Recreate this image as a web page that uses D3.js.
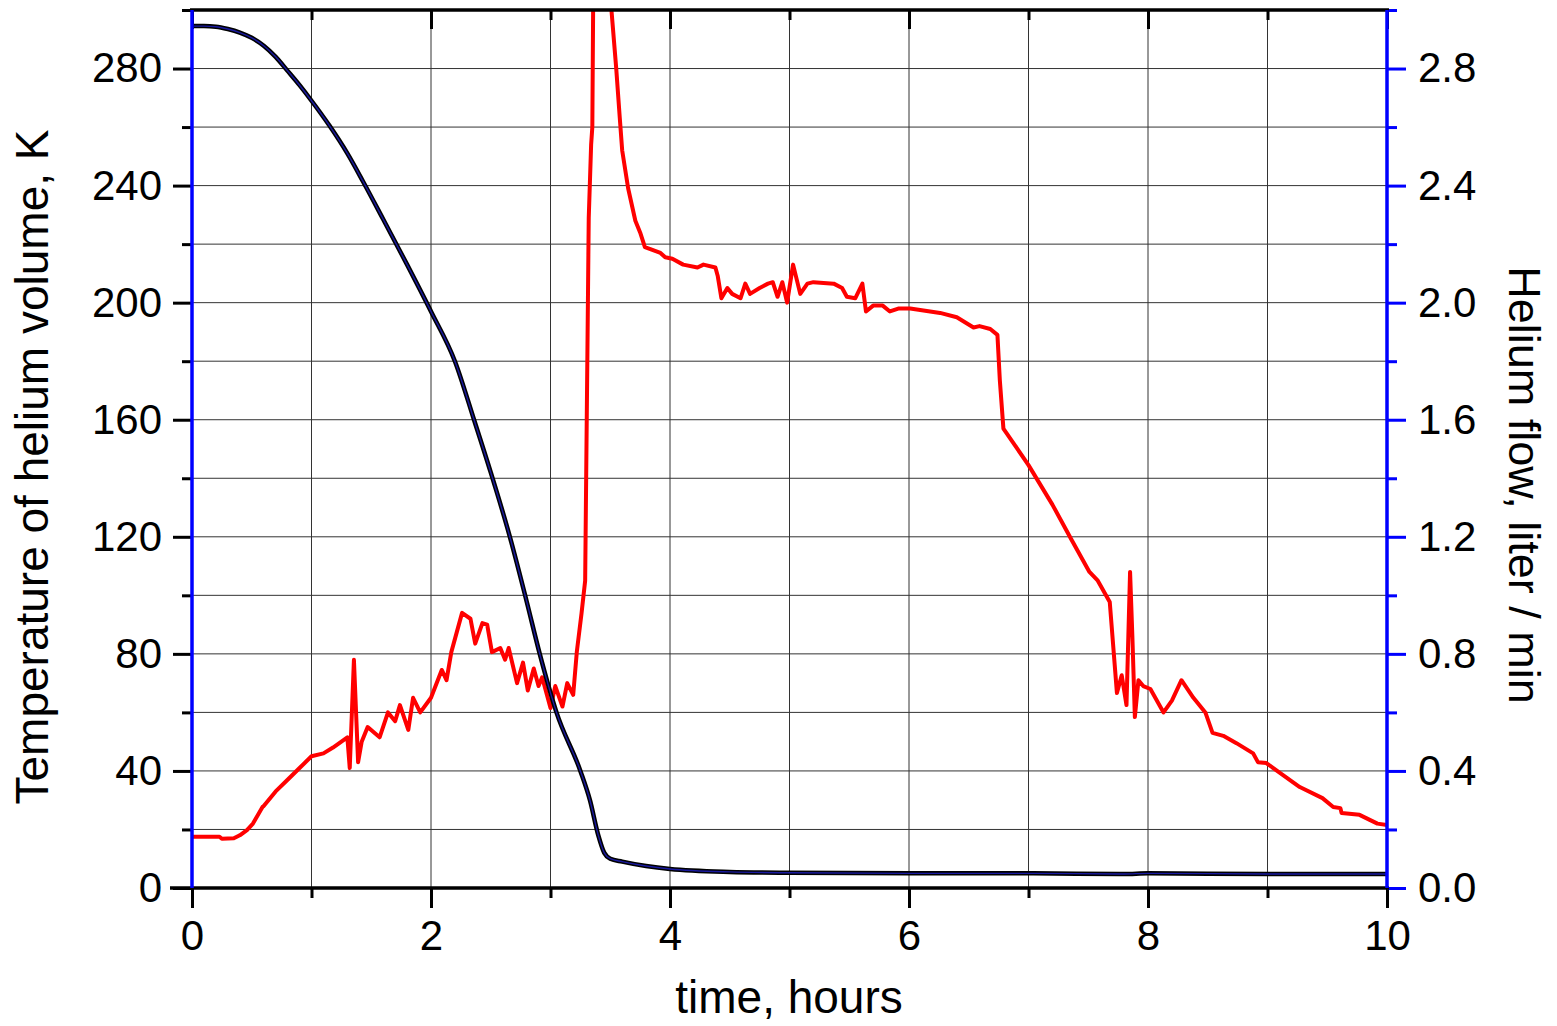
<!DOCTYPE html>
<html>
<head>
<meta charset="utf-8">
<script src="https://cdn.jsdelivr.net/npm/d3@7"></script>
<style>
  body { margin: 0; background: #fff; }
  text { font-family: "Liberation Sans", Arial, sans-serif; }
</style>
</head>
<body>
<div class="chart"></div>
<script>
// temperature of helium volume, K (left axis)
var tempTime = [0, 0.1, 0.2, 0.3, 0.4, 0.5, 0.6, 0.7, 0.8, 0.9, 1.0, 1.15, 1.3, 1.43, 1.6, 1.8, 2.0, 2.2, 2.36, 2.5, 2.66, 2.8, 2.91, 3.05, 3.25, 3.33, 3.4, 3.45, 3.5, 3.6, 3.8, 4.0, 4.5, 5, 6, 7, 7.8, 8, 9, 10];
var tempK = [294.5, 294.5, 294.3, 293.5, 292.3, 290.5, 287.8, 284, 279.2, 274.3, 269, 260.5, 251, 241.5, 228.5, 213, 197, 180, 160, 142, 120, 98, 80, 60, 40, 30, 18, 12, 10, 9, 7.5, 6.5, 5.5, 5.2, 5, 5, 4.8, 5, 4.8, 4.8];

// helium flow, liter / min (right axis)
var flowTime = [0, 0.23, 0.25, 0.35, 0.4, 0.46, 0.51, 0.59, 0.6, 0.7, 0.8, 0.9, 1.0, 1.1, 1.18, 1.30, 1.32, 1.355, 1.39, 1.42, 1.47, 1.57, 1.64, 1.70, 1.74, 1.81, 1.85, 1.91, 2.0, 2.09, 2.13, 2.17, 2.26, 2.33, 2.37, 2.43, 2.47, 2.51, 2.58, 2.62, 2.65, 2.72, 2.77, 2.81, 2.86, 2.90, 2.93, 3.0, 3.04, 3.10, 3.14, 3.19, 3.22, 3.26, 3.29, 3.32, 3.34, 3.35, 3.36, 3.40, 3.47, 3.51, 3.55, 3.58, 3.6, 3.65, 3.71, 3.75, 3.79, 3.92, 3.96, 4.02, 4.11, 4.23, 4.28, 4.38, 4.40, 4.43, 4.48, 4.52, 4.59, 4.63, 4.67, 4.75, 4.82, 4.86, 4.90, 4.94, 4.98, 5.03, 5.09, 5.15, 5.20, 5.37, 5.44, 5.48, 5.55, 5.61, 5.64, 5.70, 5.78, 5.84, 5.91, 6.01, 6.26, 6.40, 6.54, 6.59, 6.68, 6.74, 6.76, 6.79, 7.0, 7.2, 7.36, 7.51, 7.58, 7.68, 7.74, 7.78, 7.82, 7.85, 7.87, 7.89, 7.92, 7.96, 8.02, 8.13, 8.20, 8.28, 8.38, 8.48, 8.54, 8.63, 8.74, 8.88, 8.92, 8.99, 9.13, 9.27, 9.46, 9.55, 9.61, 9.62, 9.77, 9.92, 10];
var flowLpm = [0.175, 0.175, 0.168, 0.17, 0.18, 0.198, 0.22, 0.277, 0.28, 0.33, 0.37, 0.41, 0.45, 0.46, 0.48, 0.515, 0.41, 0.78, 0.43, 0.50, 0.55, 0.515, 0.60, 0.57, 0.625, 0.54, 0.65, 0.60, 0.65, 0.745, 0.71, 0.806, 0.94, 0.92, 0.835, 0.905, 0.90, 0.806, 0.82, 0.78, 0.82, 0.70, 0.77, 0.675, 0.75, 0.69, 0.72, 0.615, 0.69, 0.62, 0.70, 0.66, 0.806, 0.94, 1.05, 2.29, 2.54, 2.6, 3.2, 3.3, 3.3, 3.0, 2.80, 2.63, 2.52, 2.39, 2.28, 2.24, 2.19, 2.17, 2.155, 2.15, 2.13, 2.12, 2.13, 2.12, 2.09, 2.015, 2.05, 2.03, 2.015, 2.065, 2.03, 2.05, 2.065, 2.07, 2.02, 2.07, 2.00, 2.13, 2.03, 2.065, 2.07, 2.065, 2.05, 2.02, 2.015, 2.065, 1.97, 1.99, 1.99, 1.97, 1.98, 1.98, 1.965, 1.95, 1.915, 1.92, 1.91, 1.89, 1.735, 1.57, 1.445, 1.31, 1.19, 1.08, 1.05, 0.977, 0.666, 0.727, 0.625, 1.08, 0.85, 0.584, 0.71, 0.69, 0.68, 0.60, 0.64, 0.71, 0.65, 0.60, 0.53, 0.52, 0.495, 0.46, 0.43, 0.427, 0.386, 0.345, 0.307, 0.277, 0.273, 0.256, 0.25, 0.22, 0.215];

var xTicks = [0, 2, 4, 6, 8, 10];
var xMinor = [1, 3, 5, 7, 9];
var yLeftTicks = [0, 40, 80, 120, 160, 200, 240, 280];
var yLeftMinor = [20, 60, 100, 140, 180, 220, 260, 300];
var yRightTicks = [0, 0.4, 0.8, 1.2, 1.6, 2.0, 2.4, 2.8];
var yRightMinor = [0.2, 0.6, 1.0, 1.4, 1.8, 2.2, 2.6, 3.0];

var W = 1557, H = 1026;
var margin = {top: 10, right: 170, bottom: 138, left: 192},
    width = W - margin.left - margin.right,
    height = H - margin.top - margin.bottom;

var svg = d3.select(".chart").append("svg")
    .attr("width", W).attr("height", H);
svg.append("defs").append("clipPath").attr("id", "clip")
    .append("rect").attr("width", width).attr("height", height);

var g = svg.append("g")
    .attr("transform", "translate(" + margin.left + "," + margin.top + ")");

var x = d3.scaleLinear().domain([0, 10]).range([0, width]);
var yL = d3.scaleLinear().domain([0, 300]).range([height, 0]);
var yR = d3.scaleLinear().domain([0, 3]).range([height, 0]);

// grid
g.append("g").selectAll("line")
    .data(d3.range(1, 10))
    .enter().append("line")
    .attr("x1", function(d){ return x(d); }).attr("x2", function(d){ return x(d); })
    .attr("y1", 0).attr("y2", height)
    .attr("stroke", "#333").attr("stroke-width", 1);
g.append("g").selectAll("line")
    .data(d3.range(20, 300, 20))
    .enter().append("line")
    .attr("y1", function(d){ return yL(d); }).attr("y2", function(d){ return yL(d); })
    .attr("x1", 0).attr("x2", width)
    .attr("stroke", "#333").attr("stroke-width", 1);

// lines
var flowLine = d3.line()
    .x(function(d){ return x(d[0]); })
    .y(function(d){ return yR(d[1]); });
var tempLine = d3.line()
    .curve(d3.curveMonotoneX)
    .x(function(d){ return x(d[0]); })
    .y(function(d){ return yL(d[1]); });

var flowData = flowTime.map(function(t, i){ return [t, flowLpm[i]]; });
var tempData = tempTime.map(function(t, i){ return [t, tempK[i]]; });

var plot = g.append("g").attr("clip-path", "url(#clip)");
plot.append("path").datum(flowData)
    .attr("fill", "none").attr("stroke", "#ff0000")
    .attr("stroke-width", 4).attr("stroke-linejoin", "round")
    .attr("d", flowLine);
plot.append("path").datum(tempData)
    .attr("fill", "none").attr("stroke", "#000")
    .attr("stroke-width", 4.5).attr("d", tempLine);
plot.append("path").datum(tempData)
    .attr("fill", "none").attr("stroke", "#1a1aa0")
    .attr("stroke-width", 1.4).attr("d", tempLine);

function styleAxis(sel, color) {
    sel.select(".domain").remove();
    sel.selectAll(".tick line").attr("stroke", color).attr("stroke-width", 3);
    sel.selectAll(".tick text").attr("fill", "#000").style("font-size", "42px");
}

// bottom axis
var bx = g.append("g").attr("transform", "translate(0," + height + ")")
    .call(d3.axisBottom(x).tickValues(xTicks).tickSize(20).tickPadding(12).tickFormat(d3.format("d")));
styleAxis(bx, "#000");
var bxm = g.append("g").attr("transform", "translate(0," + height + ")")
    .call(d3.axisBottom(x).tickValues(xMinor).tickSize(10).tickFormat(""));
styleAxis(bxm, "#000");

// top axis (inward ticks)
var tx = g.append("g").call(d3.axisTop(x).tickValues(xTicks).tickSize(-19).tickFormat(""));
styleAxis(tx, "#000");
var txm = g.append("g").call(d3.axisTop(x).tickValues(xMinor).tickSize(-10).tickFormat(""));
styleAxis(txm, "#000");

// left axis
var lx = g.append("g")
    .call(d3.axisLeft(yL).tickValues(yLeftTicks).tickSize(19).tickPadding(11).tickFormat(d3.format("d")));
styleAxis(lx, "#000");
var lxm = g.append("g")
    .call(d3.axisLeft(yL).tickValues(yLeftMinor).tickSize(10).tickFormat(""));
styleAxis(lxm, "#000");

// right axis
var rx = g.append("g").attr("transform", "translate(" + width + ",0)")
    .call(d3.axisRight(yR).tickValues(yRightTicks).tickSize(19).tickPadding(12).tickFormat(d3.format(".1f")));
styleAxis(rx, "#0000ff");
var rxm = g.append("g").attr("transform", "translate(" + width + ",0)")
    .call(d3.axisRight(yR).tickValues(yRightMinor).tickSize(10).tickFormat(""));
styleAxis(rxm, "#0000ff");

// frame
g.append("line").attr("x1", -2).attr("x2", width + 2).attr("y1", 0).attr("y2", 0)
    .attr("stroke", "#000").attr("stroke-width", 3.5);
g.append("line").attr("x1", -22).attr("x2", width + 2).attr("y1", height).attr("y2", height)
    .attr("stroke", "#000").attr("stroke-width", 3.5);
g.append("line").attr("x1", 0).attr("x2", 0).attr("y1", 0).attr("y2", height)
    .attr("stroke", "#0000ff").attr("stroke-width", 3.5);
g.append("line").attr("x1", width).attr("x2", width).attr("y1", 0).attr("y2", height)
    .attr("stroke", "#0000ff").attr("stroke-width", 3.5);

// titles
svg.append("text")
    .attr("x", 789).attr("y", 1013)
    .attr("text-anchor", "middle").style("font-size", "46px")
    .text("time, hours");
svg.append("text")
    .attr("transform", "translate(48," + 467 + ") rotate(-90)")
    .attr("text-anchor", "middle").style("font-size", "46px")
    .text("Temperature of helium volume, K");
svg.append("text")
    .attr("transform", "translate(1509," + 485 + ") rotate(90)")
    .attr("text-anchor", "middle").style("font-size", "45px")
    .text("Helium flow, liter / min");
</script>
</body>
</html>
